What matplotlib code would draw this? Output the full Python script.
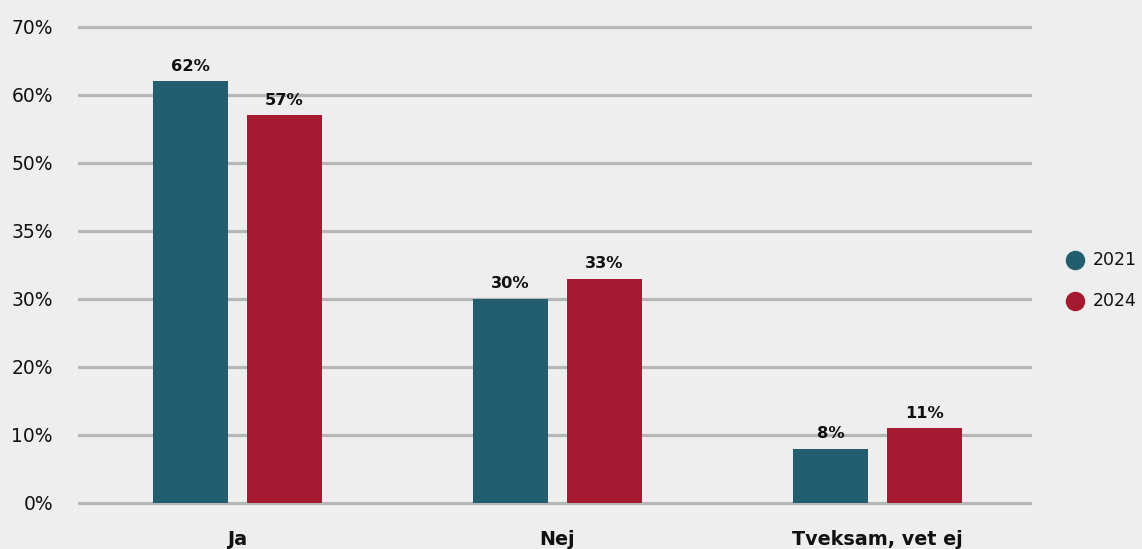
import numpy as np
from matplotlib import pyplot as plt

# データ
categories = ['Ja', 'Nej', 'Tveksam, vet ej']
series_names = ['2021', '2024']
values_2021 = [62, 30, 8]
values_2024 = [57, 33, 11]
tick_values = [0, 10, 20, 30, 40, 50, 60, 70]
tick_labels = ['0%', '10%', '20%', '30%', '35%', '50%', '60%', '70%']

colors = ['#235e70', '#a51a30']
bg = '#eeeeee'

plt.rcParams['font.family'] = ['DejaVu Sans']

fig = plt.figure(figsize=(11.42, 5.49), dpi=100, facecolor=bg)
ax = fig.add_axes([78 / 1142, (549 - 506.4) / 549, (1032 - 78) / 1142, 482.8 / 549])
ax.set_facecolor(bg)

x = np.arange(len(categories))
w = 0.234
off = 0.147

for i, (vals, name) in enumerate(zip([values_2021, values_2024], series_names)):
    pos = x - off if i == 0 else x + off
    bars = ax.bar(pos, vals, width=w, color=colors[i], zorder=3, label=name)
    for b, v in zip(bars, vals):
        ax.annotate(f'{v}%', (b.get_x() + b.get_width() / 2, v),
                    xytext=(0, 5.5), textcoords='offset points',
                    ha='center', va='bottom', fontsize=11.7, fontweight='bold',
                    color='#111111')

# グリッド線
for t in tick_values:
    ax.axhline(t, color='#b5b8b8', lw=2.3, zorder=1)

ax.set_xlim(-0.498, 2.483)
ax.set_ylim(-0.5, 70.5)
ax.set_yticks(tick_values)
ax.set_yticklabels(tick_labels, fontsize=13.5, color='#111111')
ax.tick_params(axis='y', length=0, pad=18)
ax.set_xticks([])
for s in ax.spines.values():
    s.set_visible(False)

# カテゴリラベル
for xi, c in zip(x, categories):
    ax.text(xi, -3.9, c, ha='center', va='top', fontsize=13.8, fontweight='bold',
            color='#111111', clip_on=False)

# 凡例
leg_y = [260, 301]
for name, col, yy in zip(series_names, colors, leg_y):
    fy = (549 - yy) / 549
    fig.lines.append(plt.Line2D([1075 / 1142], [fy], marker='o', markersize=13,
                                color=col, transform=fig.transFigure))
    fig.text(1093 / 1142, fy, name, ha='left', va='center', fontsize=12.5,
             color='#111111')

fig.savefig('out.png', dpi=100, facecolor=bg)
